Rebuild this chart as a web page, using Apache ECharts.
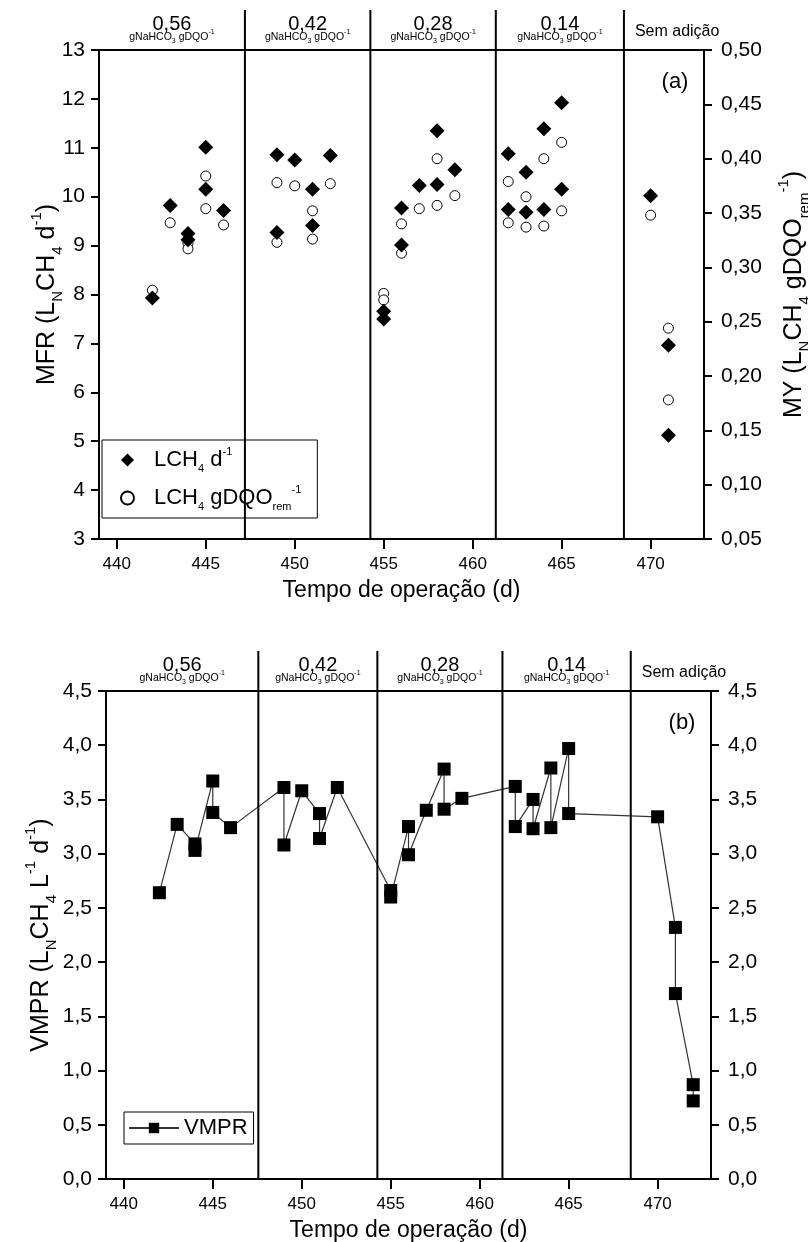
<!DOCTYPE html>
<html>
<head>
<meta charset="utf-8">
<script src="https://cdn.jsdelivr.net/npm/echarts@6/dist/echarts.min.js"></script>
<style>
  html, body { margin: 0; padding: 0; background: #fff; }
  #chart { width: 808px; height: 1242px; }
</style>
</head>
<body>
<div id="chart"></div>
<script>
// Operating day ticks shared by both panels
const dayTicks = [440, 445, 450, 455, 460, 465, 470];

// Phase boundaries (day) and bicarbonate dosing of each phase
const phaseBoundsA = [447.2, 454.25, 461.3, 468.5];
const phaseBoundsB = [447.56, 454.25, 461.28, 468.49];
const phaseDoses = ['0,56', '0,42', '0,28', '0,14'];
const lastPhase = 'Sem adição';

// (a) methane flow rate, L CH4 per day
const mfrDays   = [442, 443, 444, 444, 445, 445, 446, 449, 449, 450, 451, 451, 452,
                   455, 455, 456, 456, 457, 458, 458, 459, 462, 462, 463, 463, 464, 464,
                   465, 465, 470, 471, 471];
const mfrValues = [7.93, 9.82, 9.25, 9.12, 11.01, 10.15, 9.72, 10.86, 9.27, 10.75, 10.15, 9.41, 10.84,
                   7.66, 7.50, 9.77, 9.01, 10.23, 11.35, 10.25, 10.55, 10.88, 9.74, 10.50, 9.68, 11.39, 9.74,
                   11.92, 10.15, 10.02, 6.96, 5.12];

// (a) methane yield, L CH4 per g COD removed
const myDays   = [442, 443, 444, 444, 445, 445, 446, 449, 449, 450, 451, 451, 452,
                  455, 455, 456, 456, 457, 458, 458, 459, 462, 462, 463, 463, 464, 464,
                  465, 465, 470, 471, 471];
const myValues = [0.279, 0.341, 0.322, 0.317, 0.384, 0.354, 0.339, 0.378, 0.323, 0.375, 0.352, 0.326, 0.377,
                  0.276, 0.270, 0.340, 0.313, 0.354, 0.400, 0.357, 0.366, 0.379, 0.341, 0.365, 0.337, 0.400, 0.338,
                  0.415, 0.352, 0.348, 0.244, 0.178];

// (b) volumetric methane production rate
const vmprDays   = [442, 443, 444, 444, 445, 445, 446, 449, 449, 450, 451, 451, 452,
                    455, 455, 456, 456, 457, 458, 458, 459, 462, 462, 463, 463, 464, 464,
                    465, 465, 470, 471, 471, 472, 472];
const vmprValues = [2.64, 3.27, 3.09, 3.03, 3.67, 3.38, 3.24, 3.61, 3.08, 3.58, 3.37, 3.14, 3.61,
                    2.66, 2.60, 3.25, 2.99, 3.40, 3.78, 3.41, 3.51, 3.62, 3.25, 3.50, 3.23, 3.79, 3.24,
                    3.97, 3.37, 3.34, 2.32, 1.71, 0.87, 0.72];

const FONT = '"Liberation Sans", Arial, sans-serif';
const zip = (xs, ys) => xs.map((x, i) => [x, ys[i]]);
const comma = d => v => v.toFixed(d).replace('.', ',');

const titleRich = {
  t:  { fontSize: 25, lineHeight: 36, fontFamily: FONT, color: '#000' },
  sb: { fontSize: 15, lineHeight: 22, verticalAlign: 'bottom', fontFamily: FONT, color: '#000' },
  sp: { fontSize: 15, lineHeight: 22, verticalAlign: 'top', fontFamily: FONT, color: '#000' }
};
const legendRich = {
  g:  { width: 15, lineHeight: 28 },
  t:  { fontSize: 22, lineHeight: 28, fontFamily: FONT, color: '#000' },
  sb: { fontSize: 11, lineHeight: 14, verticalAlign: 'bottom', fontFamily: FONT, color: '#000' },
  sp: { fontSize: 11, lineHeight: 14, verticalAlign: 'top', fontFamily: FONT, color: '#000' }
};
const unitRich = {
  u:  { fontSize: 10.5, lineHeight: 16, fontFamily: FONT, color: '#000' },
  us: { fontSize: 7, lineHeight: 9, verticalAlign: 'bottom', fontFamily: FONT, color: '#000' },
  up: { fontSize: 7, lineHeight: 9, verticalAlign: 'top', fontFamily: FONT, color: '#000' }
};

const axisLine = { show: true, lineStyle: { color: '#000', width: 2 } };
const tickOut = { show: true, inside: false, length: 8, lineStyle: { color: '#000', width: 2 } };

function dayAxis(gridIndex) {
  return {
    type: 'value', gridIndex, min: 439, max: 473,
    axisLine, splitLine: { show: false },
    axisTick: { show: true, inside: false, length: 10, lineStyle: { color: '#000', width: 2 }, customValues: dayTicks },
    axisLabel: { customValues: dayTicks, fontSize: 17, fontFamily: FONT, color: '#000', margin: 17 },
    name: 'Tempo de operação (d)', nameLocation: 'middle', nameGap: 40, nameMoveOverlap: false,
    nameTextStyle: { fontSize: 23, fontFamily: FONT, color: '#000' }
  };
}

const chart = echarts.init(document.getElementById('chart'), null, { renderer: 'canvas' });

const option = {
  backgroundColor: '#fff',
  animation: false,
  grid: [
    { left: 99, right: 104, top: 50, bottom: 703, show: true, borderColor: '#000', borderWidth: 2, outerBoundsMode: 'none' },
    { left: 106, right: 97, top: 691, bottom: 63, show: true, borderColor: '#000', borderWidth: 2, outerBoundsMode: 'none' }
  ],
  xAxis: [dayAxis(0), dayAxis(1)],
  yAxis: [
    {
      type: 'value', gridIndex: 0, position: 'left', min: 3, max: 13, interval: 1,
      axisLine, axisTick: tickOut, splitLine: { show: false },
      axisLabel: { fontSize: 21, fontFamily: FONT, color: '#000', margin: 14 },
      name: '{t|MFR (L}{sb|N}{t|CH}{sb|4}{t| d}{sp|-1}{t|)}',
      nameLocation: 'middle', nameRotate: 90, nameGap: 34, nameMoveOverlap: false,
      nameTextStyle: { rich: titleRich }
    },
    {
      type: 'value', gridIndex: 0, position: 'right', min: 0.05, max: 0.5, interval: 0.05,
      axisLine, axisTick: tickOut, splitLine: { show: false },
      axisLabel: { fontSize: 21, fontFamily: FONT, color: '#000', margin: 17, formatter: comma(2) },
      name: '{t|MY (L}{sb|N}{t|CH}{sb|4}{t| gDQO}{sb|rem}{sp|-1}{t|)}',
      nameLocation: 'middle', nameRotate: 90, nameGap: 72, nameMoveOverlap: false,
      nameTextStyle: { rich: titleRich }
    },
    {
      type: 'value', gridIndex: 1, position: 'left', min: 0, max: 4.5, interval: 0.5,
      axisLine, axisTick: tickOut, splitLine: { show: false },
      axisLabel: { fontSize: 21, fontFamily: FONT, color: '#000', margin: 14, formatter: comma(1) },
      name: '{t|VMPR (L}{sb|N}{t|CH}{sb|4}{t| L}{sp|-1}{t| d}{sp|-1}{t|)}',
      nameLocation: 'middle', nameRotate: 90, nameGap: 47, nameMoveOverlap: false,
      nameTextStyle: { rich: titleRich }
    },
    {
      type: 'value', gridIndex: 1, position: 'right', min: 0, max: 4.5, interval: 0.5,
      axisLine, axisTick: tickOut, splitLine: { show: false },
      axisLabel: { fontSize: 21, fontFamily: FONT, color: '#000', margin: 17, formatter: comma(1) }
    }
  ],
  legend: [
    {
      left: 102, top: 440, orient: 'vertical',
      data: ['MFR', 'MY'],
      borderColor: '#000', borderWidth: 1, padding: [6, 16, 6, 18], itemGap: 10,
      itemWidth: 13, itemHeight: 13,
      formatter: n => n === 'MFR'
        ? '{g|}{t|LCH}{sb|4}{t| d}{sp|-1}'
        : '{g|}{t|LCH}{sb|4}{t| gDQO}{sb|rem}{sp|-1}',
      textStyle: { rich: legendRich }
    },
    {
      left: 124, top: 1112, orient: 'vertical',
      data: ['VMPR'],
      borderColor: '#000', borderWidth: 1, padding: [5, 6, 5, 4],
      itemWidth: 50, itemHeight: 13,
      textStyle: { fontSize: 22, fontFamily: FONT, color: '#000' }
    }
  ],
  series: [
    {
      name: 'MFR', type: 'scatter', xAxisIndex: 0, yAxisIndex: 0,
      symbol: 'diamond', symbolSize: 15,
      itemStyle: { color: '#000', opacity: 1 },
      data: zip(mfrDays, mfrValues), z: 3
    },
    {
      name: 'MY', type: 'scatter', xAxisIndex: 0, yAxisIndex: 1,
      symbol: 'circle', symbolSize: 10,
      itemStyle: { color: '#fff', borderColor: '#000', borderWidth: 1, opacity: 1 },
      data: zip(myDays, myValues), z: 2
    },
    {
      name: 'VMPR', type: 'line', xAxisIndex: 1, yAxisIndex: 2,
      symbol: 'rect', symbolSize: 13, showSymbol: true,
      lineStyle: { color: '#333', width: 1.2 },
      itemStyle: { color: '#000', borderWidth: 0, opacity: 1 },
      data: zip(vmprDays, vmprValues), z: 3
    }
  ]
};

chart.setOption(option);

// Phase dividers and headers, positioned through the axes
function panelDecor(xi, yi, yMin, yMax, bounds, tag) {
  const P = (x, y) => chart.convertToPixel({ xAxisIndex: xi, yAxisIndex: yi }, [x, y]);
  const top = P(439, yMax)[1];
  const bottom = P(439, yMin)[1];
  const els = [];
  const edges = [439].concat(bounds);
  bounds.forEach(b => {
    const x = P(b, yMin)[0];
    els.push({ type: 'line', shape: { x1: x, y1: top - 40, x2: x, y2: bottom },
               style: { stroke: '#000', lineWidth: 2 }, z: 10, silent: true });
  });
  phaseDoses.forEach((d, i) => {
    const cx = (P(edges[i], yMin)[0] + P(edges[i + 1], yMin)[0]) / 2;
    els.push({ type: 'text', x: cx, y: top - 26, z: 10, silent: true,
               style: { text: d, fontSize: 20, fontFamily: FONT, fill: '#000', align: 'center', verticalAlign: 'middle' } });
    els.push({ type: 'text', x: cx, y: top - 13, z: 10, silent: true,
               style: { text: '{u|gNaHCO}{us|3}{u| gDQO}{up|-1}', rich: unitRich, align: 'center', verticalAlign: 'middle' } });
  });
  const lastX = P(bounds[bounds.length - 1], yMin)[0];
  els.push({ type: 'text', x: lastX + 11, y: top - 18, z: 10, silent: true,
             style: { text: lastPhase, fontSize: 16, fontFamily: FONT, fill: '#000', align: 'left', verticalAlign: 'middle' } });
  const rightX = P(473, yMin)[0];
  els.push({ type: 'text', x: rightX - 29, y: top + 32, z: 10, silent: true,
             style: { text: tag, fontSize: 22, fontFamily: FONT, fill: '#000', align: 'center', verticalAlign: 'middle' } });
  return els;
}

chart.setOption({
  graphic: panelDecor(0, 0, 3, 13, phaseBoundsA, '(a)')
    .concat(panelDecor(1, 2, 0, 4.5, phaseBoundsB, '(b)'))
});
</script>
</body>
</html>
